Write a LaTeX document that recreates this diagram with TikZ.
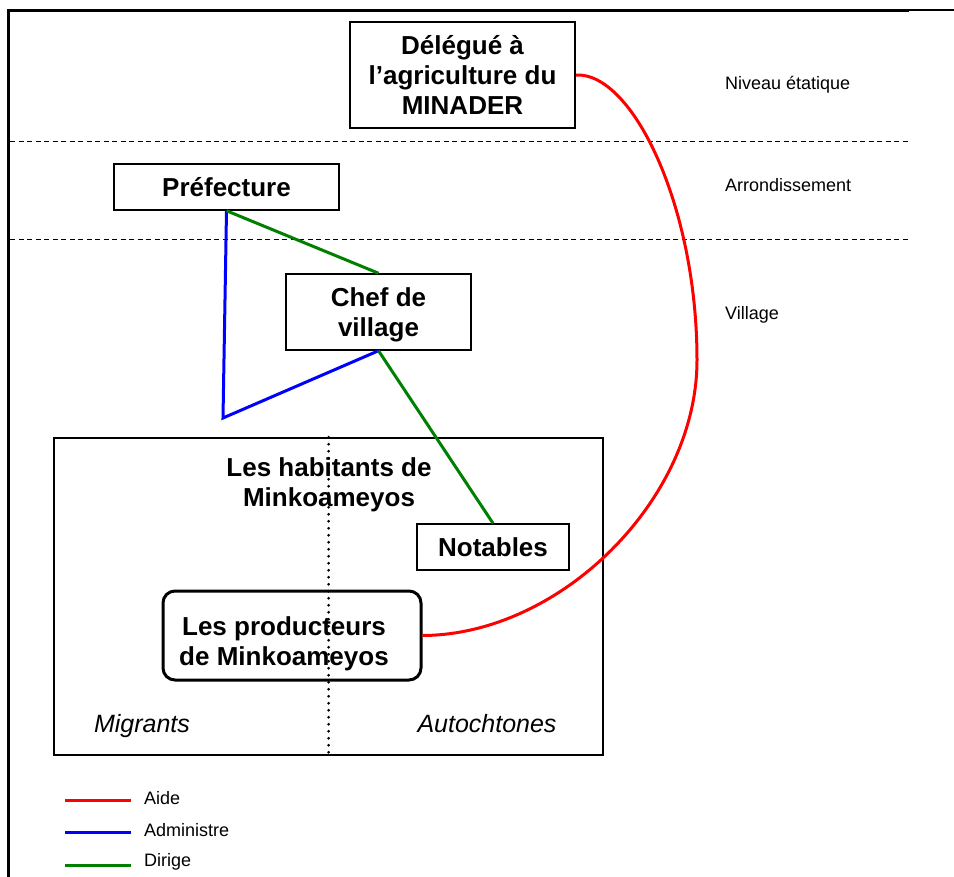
\documentclass[tikz,border=0pt]{standalone}
\usepackage{fontspec}
\setmainfont{Liberation Sans}
\usetikzlibrary{positioning}
\definecolor{aideRed}{RGB}{255,0,0}
\definecolor{adminBlue}{RGB}{0,0,255}
\definecolor{dirigeGreen}{RGB}{0,128,0}

\begin{document}
\begin{tikzpicture}[x=1pt, y=-1pt, line join=miter,
    box/.style={draw, line width=1.5pt, align=center, inner sep=0pt, text depth=0pt,
      font=\fontsize{26}{30}\selectfont\bfseries},
    boldtxt/.style={align=center, inner sep=0pt, text depth=0pt, font=\fontsize{26}{30}\selectfont\bfseries},
    grouptxt/.style={inner sep=0pt, text depth=0pt, font=\fontsize{25}{30}\selectfont\itshape},
    leveltxt/.style={anchor=west, inner sep=0pt, font=\fontsize{18}{22}\selectfont},
    legendtxt/.style={inner sep=0pt, font=\fontsize{18}{22}\selectfont},
    levelsep/.style={line width=1pt, dash pattern=on 5pt off 3.5pt},
    aide/.style={aideRed, line width=3pt},
    administre/.style={adminBlue, line width=3pt},
    dirige/.style={dirigeGreen, line width=3pt}]
    \useasboundingbox (0,0) rectangle (954,877);
    % frame and levels
    \draw[line width=3pt] (8.5,877) -- (8.5,10.5) -- (909,10.5);
    \draw[line width=2pt] (909,10.5) -- (954,10.5);
    \draw[levelsep] (10,142) -- (908,142);
    \draw[levelsep] (10,240) -- (908,240);
    \node[leveltxt] (etat) at (725,85) {Niveau étatique};
    \node[leveltxt] (arrond) at (725,185) {Arrondissement};
    \node[leveltxt] (vill) at (725,315) {Village};
    % actors
    \node[box, line width=2pt, minimum width=225pt, minimum height=106pt] (delegue) at (462.5,75)
        {Délégué à\\l’agriculture du\\MINADER};
    \node[box, minimum width=225pt, minimum height=46pt] (prefecture) at (226.5,187) {Préfecture};
    \node[box, minimum width=185pt, minimum height=76pt] (chef) at (378.5,312) {Chef de\\village};
    \node[draw, line width=1.5pt, minimum width=549pt, minimum height=317pt, inner sep=0pt] (village) at (328.5,596.5) {};
    \draw[line width=3pt, line cap=round, dash pattern=on 0pt off 7pt] (village.north) -- (village.south);
    \node[boldtxt] (habitants) at (329,482) {Les habitants de\\Minkoameyos};
    \node[box, minimum width=152pt, minimum height=46pt] (notables) at (493,547) {Notables};
    \node[draw, line width=3pt, rounded corners=12pt, minimum width=258pt, minimum height=89pt, inner sep=0pt] (producteurs) at (292,635.5) {};
    \node[boldtxt] (prodTxt) at (284,641) {Les producteurs\\de Minkoameyos};
    \node[grouptxt] (migrants) at (142,723) {Migrants};
    \node[grouptxt] (autochtones) at (487,723) {Autochtones};
    % relations
    \coordinate (coin) at (223,418);
    \draw[administre] (prefecture.south) -- (coin) -- (chef.south);
    \draw[dirige] (prefecture.south) -- (chef.north);
    \draw[dirige] (chef.south) -- (notables.north);
    \draw[aide] (delegue.east) .. controls (632,72) and (697,205) .. (697,360)
        .. controls (697,500) and (560,635) .. (producteurs.east);
    % legend
    \coordinate (aideA) at (65,800);
    \coordinate (aideB) at (131,800);
    \coordinate (adminA) at (65,832);
    \coordinate (adminB) at (131,832);
    \coordinate (dirigeA) at (65,865);
    \coordinate (dirigeB) at (131,865);
    \draw[aide] (aideA) -- (aideB);
    \draw[administre] (adminA) -- (adminB);
    \draw[dirige] (dirigeA) -- (dirigeB);
    \node[legendtxt, right=13pt of aideB, yshift=2pt] (aideTxt) {Aide};
    \node[legendtxt, right=13pt of adminB, yshift=2pt] (adminTxt) {Administre};
    \node[legendtxt, right=13pt of dirigeB, yshift=3pt] (dirigeTxt) {Dirige};
\end{tikzpicture}
\end{document}
